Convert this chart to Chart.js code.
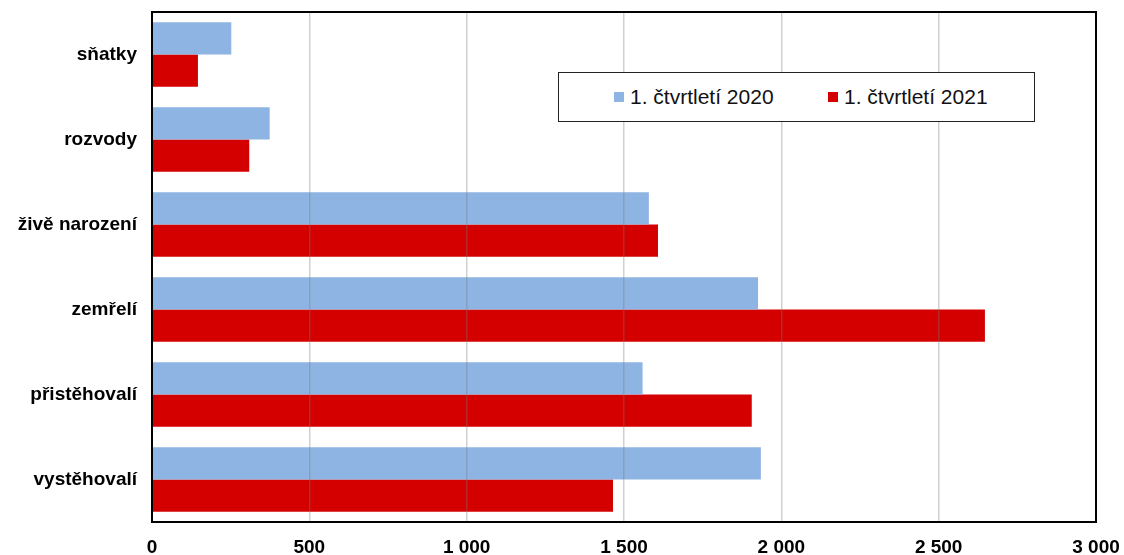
<!DOCTYPE html>
<html lang="cs">
<head>
    <meta charset="UTF-8">
    <title>Pohyb obyvatelstva</title>
    <script src="https://cdn.jsdelivr.net/npm/chart.js"></script>
    <style>
        html, body { margin: 0; padding: 0; background: #fff; }
        #wrap { position: relative; width: 1124px; height: 555px; }
        #legend {
            position: absolute; left: 558px; top: 72px; width: 475px; height: 48px;
            border: 1px solid #222; background: #fff;
            font-family: "Liberation Sans", Arial, sans-serif; font-size: 21px; color: #111;
        }
        .item { position: absolute; top: 0; height: 48px; display: flex; align-items: center; }
        .box { width: 10px; height: 10px; margin-right: 6px; }
    </style>
</head>
<body>
<div id="wrap">
    <canvas id="chart" width="1124" height="555"></canvas>
    <div id="legend"></div>
</div>

<script>
    // kategorie a hodnoty
    const categories = ['sňatky', 'rozvody', 'živě narození', 'zemřelí', 'přistěhovalí', 'vystěhovalí'];
    const q2020 = [252, 374, 1579, 1926, 1559, 1935];
    const q2021 = [146, 309, 1608, 2647, 1906, 1465];
    const seriesNames = ['1. čtvrtletí 2020', '1. čtvrtletí 2021'];
    const xTicks = [0, 500, 1000, 1500, 2000, 2500, 3000];

    const colors = ['#8EB4E3', '#D40000'];

    // ramecek kolem plochy grafu
    const frame = {
        id: 'frame',
        afterDraw(chart) {
            const a = chart.chartArea, ctx = chart.ctx;
            ctx.save();
            ctx.strokeStyle = '#000';
            ctx.lineWidth = 2;
            ctx.strokeRect(a.left, a.top, a.right - a.left, a.bottom - a.top);
            ctx.restore();
        }
    };

    const font = { family: '"Liberation Sans", Arial, sans-serif', size: 19, weight: 'bold' };

    new Chart(document.getElementById('chart'), {
        type: 'bar',
        data: {
            labels: categories,
            datasets: [
                { label: seriesNames[0], data: q2020, backgroundColor: colors[0] },
                { label: seriesNames[1], data: q2021, backgroundColor: colors[1] }
            ]
        },
        options: {
            indexAxis: 'y',
            responsive: false,
            animation: false,
            layout: { padding: { top: 12, right: 28, left: 0, bottom: 0 } },
            datasets: { bar: { categoryPercentage: 0.757, barPercentage: 1.0 } },
            plugins: { legend: { display: false }, tooltip: { enabled: false } },
            scales: {
                x: {
                    min: 0, max: 3000,
                    afterBuildTicks: s => { s.ticks = xTicks.map(v => ({ value: v })); },
                    afterFit: s => { s.height = 33; s.paddingLeft = 0; s.paddingRight = 0; },
                    grid: { color: 'rgba(120,120,120,0.35)', lineWidth: 1.5, drawTicks: false, z: 1 },
                    border: { display: false },
                    ticks: {
                        color: '#000', font: font, padding: 14, maxRotation: 0,
                        callback: v => String(v).replace(/\B(?=(\d{3})+(?!\d))/g, ' ')
                    }
                },
                y: {
                    afterFit: s => { s.width = 152; s.paddingTop = 0; s.paddingBottom = 0; },
                    grid: { display: false, drawTicks: false },
                    border: { display: false },
                    ticks: { color: '#000', font: font, padding: 15 }
                }
            }
        },
        plugins: [frame]
    });

    // legenda v ramecku uvnitr grafu
    const legend = document.getElementById('legend');
    const lefts = [55, 269];
    seriesNames.forEach((name, i) => {
        const it = document.createElement('div');
        it.className = 'item';
        it.style.left = lefts[i] + 'px';
        it.innerHTML = '<span class="box" style="background:' + colors[i] + '"></span><span>' + name + '</span>';
        legend.appendChild(it);
    });
</script>
</body>
</html>
